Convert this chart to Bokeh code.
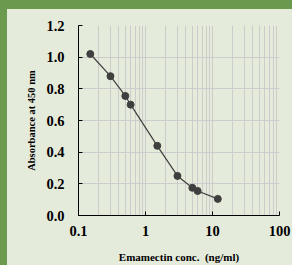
from bokeh.plotting import figure
from bokeh.embed import file_html
from bokeh.resources import INLINE
from bokeh.models import Range1d, FixedTicker, CustomJSTickFormatter, PrintfTickFormatter

# data
conc = [0.15, 0.3, 0.5, 0.6, 1.5, 3, 5, 6, 12]
absorbance = [1.02, 0.88, 0.755, 0.70, 0.44, 0.25, 0.175, 0.155, 0.105]
x_ticks = [0.1, 1, 10, 100]
x_minor = [0.2, 0.3, 0.4, 0.5, 0.6, 0.7, 0.8, 0.9,
           2, 3, 4, 5, 6, 7, 8, 9,
           20, 30, 40, 50, 60, 70, 80, 90]
y_ticks = [0.0, 0.2, 0.4, 0.6, 0.8, 1.0, 1.2]

GREEN = "#6b9a4f"
PANEL = "#e5ebdb"
INK = "#3f3f3f"
FONT = "Liberation Serif"
PAD_LEFT = 16

p = figure(width=292 - 7 - PAD_LEFT, height=256, x_axis_type="log",
           x_range=Range1d(0.1, 100), y_range=Range1d(0, 1.2),
           output_backend="svg", toolbar_location=None,
           min_border_left=0, min_border_right=13,
           min_border_top=16, min_border_bottom=48)
p.border_fill_color = PANEL
p.background_fill_color = PANEL
p.outline_line_color = None

p.xaxis.ticker = FixedTicker(ticks=x_ticks, minor_ticks=x_minor)
p.yaxis.ticker = FixedTicker(ticks=y_ticks)
p.xaxis.formatter = CustomJSTickFormatter(code="return tick.toString();")
p.yaxis.formatter = PrintfTickFormatter(format="%.1f")

for ax in (p.xaxis, p.yaxis):
    ax.axis_line_color = "black"
    ax.axis_line_width = 1
    ax.major_tick_in = 4
    ax.major_tick_out = 0
    ax.major_tick_line_color = "black"
    ax.minor_tick_line_color = None
    ax.major_label_text_font = FONT
    ax.major_label_text_font_style = "bold"
    ax.major_label_text_font_size = "14.5px"
    ax.major_label_text_color = "black"
    ax.axis_label_text_font = FONT
    ax.axis_label_text_font_style = "bold"
    ax.axis_label_text_color = "black"

p.xaxis.major_label_standoff = 6
p.yaxis.major_label_standoff = 14
p.xaxis.axis_label = "Emamectin conc.\u00a0\u00a0(ng/ml)"
p.yaxis.axis_label = "Absorbance at 450 nm"
p.xaxis.axis_label_text_font_size = "11px"
p.yaxis.axis_label_text_font_size = "10.5px"
p.xaxis.axis_label_standoff = 12
p.yaxis.axis_label_standoff = 6

p.xgrid.grid_line_color = "#cccccc"
p.xgrid.minor_grid_line_color = "#cccccc"
p.ygrid.grid_line_color = "#cccccc"

p.line(conc, absorbance, line_color=INK, line_width=1.2)
p.scatter(conc, absorbance, size=7, fill_color=INK, line_color=INK)

html = file_html(p, INLINE)
body_style = ("margin:0;padding:0 0 0 %dpx;border-left:7px solid %s;border-top:9px solid %s;"
              "background-color:%s;overflow:hidden;" % (PAD_LEFT, GREEN, GREEN, PANEL))
html = html.replace("<body>", '<body style="%s">' % body_style)
open("out.html", "w").write(html)
